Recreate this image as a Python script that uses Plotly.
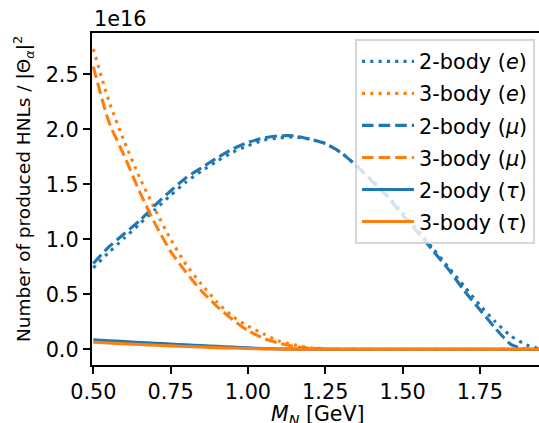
import plotly.graph_objects as go

# HNL mass [GeV]
mass = [0.50, 0.55, 0.60, 0.65, 0.70, 0.75, 0.80, 0.85, 0.90, 0.95,
        1.00, 1.05, 1.10, 1.15, 1.20, 1.25, 1.30, 1.35, 1.40, 1.45,
        1.50, 1.55, 1.60, 1.65, 1.70, 1.75, 1.80, 1.85, 1.90, 1.95]

# Number of produced HNLs / |Theta|^2, in units of 1e16
two_body_e = [0.74, 0.88, 1.01, 1.14, 1.27, 1.40, 1.52, 1.62, 1.71, 1.79,
              1.85, 1.90, 1.92, 1.93, 1.91, 1.87, 1.79, 1.67, 1.54, 1.40,
              1.24, 1.08, 0.91, 0.74, 0.57, 0.40, 0.25, 0.12, 0.04, 0.0]
three_body_e = [2.73, 2.26, 1.89, 1.56, 1.27, 1.00, 0.77, 0.59, 0.43, 0.30,
                0.21, 0.14, 0.075, 0.04, 0.015, 0.004, 0.0, 0.0, 0.0, 0.0,
                0.0, 0.0, 0.0, 0.0, 0.0, 0.0, 0.0, 0.0, 0.0, 0.0]
two_body_mu = [0.78, 0.93, 1.05, 1.17, 1.31, 1.44, 1.56, 1.65, 1.74, 1.82,
               1.88, 1.92, 1.94, 1.94, 1.91, 1.87, 1.79, 1.67, 1.53, 1.39,
               1.22, 1.06, 0.89, 0.72, 0.53, 0.36, 0.19, 0.045, 0.0, 0.0]
three_body_mu = [2.57, 2.07, 1.76, 1.43, 1.14, 0.89, 0.70, 0.53, 0.39, 0.27,
                 0.17, 0.10, 0.055, 0.025, 0.01, 0.003, 0.0, 0.0, 0.0, 0.0,
                 0.0, 0.0, 0.0, 0.0, 0.0, 0.0, 0.0, 0.0, 0.0, 0.0]
two_body_tau = [0.085, 0.078, 0.070, 0.062, 0.055, 0.047, 0.040, 0.033, 0.027, 0.020,
                0.013, 0.007, 0.003, 0.001, 0.0, 0.0, 0.0, 0.0, 0.0, 0.0,
                0.0, 0.0, 0.0, 0.0, 0.0, 0.0, 0.0, 0.0, 0.0, 0.0]
three_body_tau = [0.065, 0.057, 0.050, 0.043, 0.037, 0.031, 0.025, 0.020, 0.015, 0.011,
                  0.007, 0.004, 0.002, 0.001, 0.0005, 0.0, 0.0, 0.0, 0.0, 0.0,
                  0.0, 0.0, 0.0, 0.0, 0.0, 0.0, 0.0, 0.0, 0.0, 0.0]

x_ticks = [0.50, 0.75, 1.00, 1.25, 1.50, 1.75]
y_ticks = [0.0, 0.5, 1.0, 1.5, 2.0, 2.5]

BLUE = "#1f77b4"
ORANGE = "#ff7f0e"
LW = 3.1
DOT = "3.1px,5.2px"
DASH = "11.6px,5px"
FONT = "DejaVu Sans"
FS = 20.8       # tick labels
FS_XLAB = 20.5  # x-axis label
FS_YLAB = 18.5  # y-axis label
FS_LEG = 20.8   # legend

series = [
    ("2-body (<i>e</i>)", two_body_e, BLUE, DOT),
    ("3-body (<i>e</i>)", three_body_e, ORANGE, DOT),
    ("2-body (<i>μ</i>)", two_body_mu, BLUE, DASH),
    ("3-body (<i>μ</i>)", three_body_mu, ORANGE, DASH),
    ("2-body (<i>τ</i>)", two_body_tau, BLUE, "solid"),
    ("3-body (<i>τ</i>)", three_body_tau, ORANGE, "solid"),
]

fig = go.Figure()
for i, (name, ys, col, dash) in enumerate(series):
    fig.add_trace(go.Scatter(x=mass, y=ys, mode="lines", name=name, legendgroup=f"g{i}",
                             line=dict(color=col, width=LW, dash=dash, shape="spline", smoothing=0.6)))

fig.update_layout(
    width=539, height=423,
    margin=dict(l=92, r=0, t=33, b=58, autoexpand=False),
    paper_bgcolor="white", plot_bgcolor="white",
    font=dict(family=FONT, size=FS, color="black"),
    showlegend=True,
    legend=dict(x=0.991, y=0.981, xanchor="right", yanchor="top", itemwidth=52,
                bgcolor="rgba(255,255,255,0.8)", bordercolor="rgba(204,204,204,0.8)",
                borderwidth=2, font=dict(family=FONT, size=FS_LEG), tracegroupgap=2),
    xaxis=dict(range=[0.4958, 1.941], tickvals=x_ticks, tickformat=".2f", automargin=False,
               showgrid=False, zeroline=False, showline=True, mirror=True,
               linecolor="black", linewidth=1.67, ticks="outside", ticklen=7.3,
               tickwidth=1.67, tickcolor="black"),
    yaxis=dict(range=[-0.143, 2.875], tickvals=y_ticks, tickformat=".1f", automargin=False,
               showgrid=False, zeroline=False, showline=True,
               linecolor="black", linewidth=1.67, ticks="outside", ticklen=7.3,
               tickwidth=1.67, tickcolor="black"),
    annotations=[
        dict(text="1e16", x=0, y=1, xref="paper", yref="paper",
             xanchor="left", yanchor="bottom", showarrow=False,
             font=dict(family=FONT, size=FS)),
        dict(text="Number of produced HNLs / |Θ<sub><i>α</i></sub>|<sup>2</sup>",
             x=0, y=0.530, xref="paper", yref="paper", xshift=-69, textangle=-90,
             xanchor="center", yanchor="middle", showarrow=False,
             font=dict(family=FONT, size=FS_YLAB)),
        dict(text="<i>M</i><sub><i>N</i></sub> [GeV]",
             x=0.505, y=-0.150, xref="paper", yref="paper",
             xanchor="center", yanchor="middle", showarrow=False,
             font=dict(family=FONT, size=FS_XLAB)),
    ],
)

fig.write_html("out.html", config={"displayModeBar": False},
               post_script="document.body.style.margin='0';document.body.style.overflow='hidden';")
